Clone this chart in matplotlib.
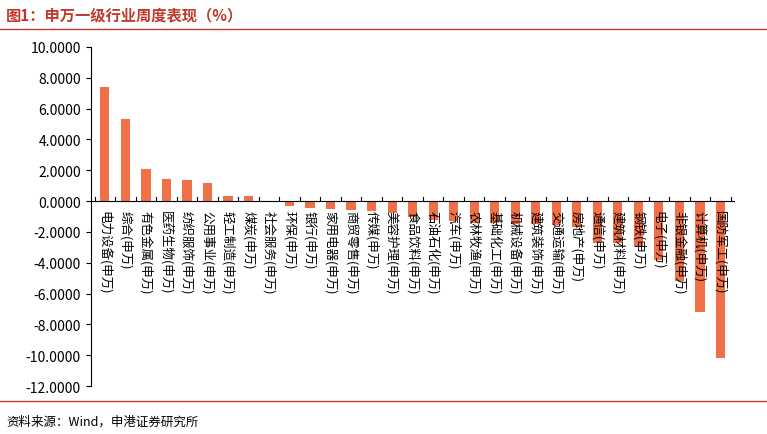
import matplotlib.pyplot as plt

plt.rcParams['font.family'] = ['Noto Sans CJK SC', 'DejaVu Sans']

# 申万一级行业周度涨跌幅(%)
industries = ["电力设备", "综合", "有色金属", "医药生物", "纺织服饰", "公用事业", "轻工制造", "煤炭",
              "社会服务", "环保", "银行", "家用电器", "商贸零售", "传媒", "美容护理", "食品饮料",
              "石油石化", "汽车", "农林牧渔", "基础化工", "机械设备", "建筑装饰", "交通运输", "房地产",
              "通信", "建筑材料", "钢铁", "电子", "非银金融", "计算机", "国防军工"]
values = [7.40, 5.35, 2.10, 1.40, 1.35, 1.20, 0.30, 0.30,
          -0.05, -0.30, -0.45, -0.50, -0.60, -0.65, -0.80, -1.00,
          -1.20, -1.30, -1.40, -1.40, -1.50, -1.50, -1.55, -1.65,
          -2.75, -2.75, -2.95, -3.80, -5.20, -7.20, -10.20]
labels = [n + "(申万)" for n in industries]

fig = plt.figure(figsize=(7.67, 4.35), dpi=100)
fig.text(0.008, 0.965, "图1：申万一级行业周度表现（%）", fontsize=11, fontweight='bold',
         color='#c0392b', va='center')
fig.add_artist(plt.Line2D([0, 1], [0.93, 0.93], color='#c0392b', lw=1))
fig.add_artist(plt.Line2D([0, 1], [0.075, 0.075], color='#c0392b', lw=1))
fig.text(0.008, 0.03, "资料来源：Wind，申港证券研究所", fontsize=9, style='italic', va='center')

ax = fig.add_axes([0.118, 0.11, 0.84, 0.78])
x = range(len(values))
ax.bar(x, values, width=0.45, color='#f07048', zorder=1)
ax.set_xlim(-0.7, len(values) - 0.3)
ax.set_ylim(-12, 10)
ax.set_yticks(range(-12, 11, 2))
ax.set_yticklabels([f"{v:.4f}" for v in range(-12, 11, 2)], fontsize=10)
for s in ['top', 'right', 'bottom']:
    ax.spines[s].set_visible(False)
ax.axhline(0, color='black', lw=0.8, zorder=2)
ax.set_xticks([])
for i in range(len(values) + 1):
    ax.plot([i - 0.5, i - 0.5], [0, 0.25], color='black', lw=0.8, zorder=2)
for i, lab in enumerate(labels):
    ax.text(i, -0.6, lab, rotation=-90, rotation_mode='anchor', ha='left', va='center',
            fontsize=9, zorder=3)

fig.savefig("out.png", dpi=100)
